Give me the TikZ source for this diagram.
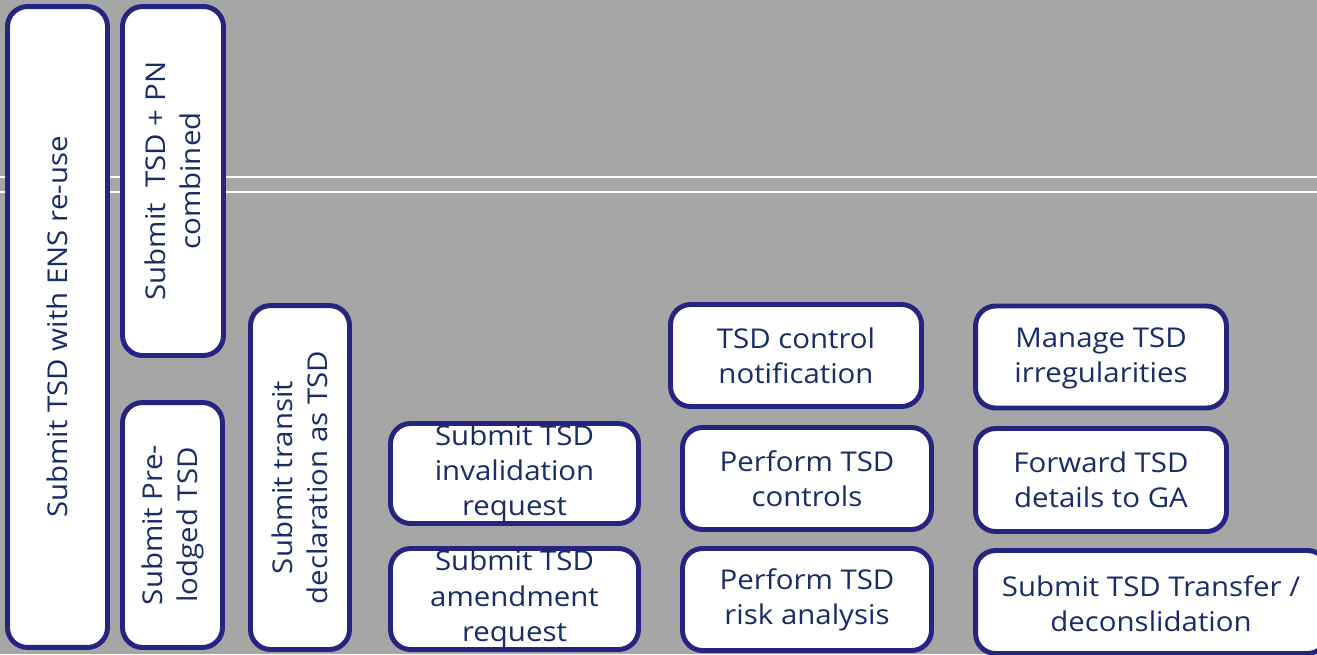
\documentclass[tikz,border=0pt]{standalone}
\usepackage{fontspec}
\setmainfont{Open Sans}[FakeStretch=1.08]
\definecolor{lanegray}{HTML}{A6A6A6}
\definecolor{boxborder}{RGB}{38,36,128}
\definecolor{boxink}{RGB}{24,44,102}

\begin{document}
\begin{tikzpicture}[
        x=0.02cm, y=-0.02cm,
        font=\fontsize{15.5}{20}\selectfont,
        lane/.style={draw=white, line width=1.1pt},
        box/.style={draw=boxborder, fill=white, line width=2.8pt,
            rounded corners=0.4cm, inner sep=0pt, outer sep=0pt},
        txt/.style={text=boxink, align=center, inner sep=0pt},
        vtxt/.style={txt, rotate=90}
    ]
    \useasboundingbox (0,0) rectangle (1317,654);
    \fill[lanegray] (0,0) rectangle (1317,654);
    \clip (0,0) rectangle (1317,654);
    % lane lines
    \draw[lane] (0,177) -- (1317,177);
    \draw[lane] (0,192) -- (1317,192);
    % vertical boxes
    \node[box, minimum width=2.0cm, minimum height=12.82cm] (ensreuse) at (57.5,327) {};
    \node[box, minimum width=2.02cm, minimum height=6.98cm] (pncombined) at (173,181) {};
    \node[box, minimum width=2.0cm, minimum height=4.9cm] (prelodged) at (172.5,525) {};
    \node[box, minimum width=1.98cm, minimum height=6.88cm] (transit) at (300,477.5) {};
    \node[vtxt] at (ensreuse) {Submit TSD with ENS re-use};
    \node[vtxt] at (pncombined) {Submit\ \ TSD + PN\\combined};
    \node[vtxt] at (prelodged) {Submit Pre-\\lodged TSD};
    \node[vtxt] at (transit) {Submit transit\\declaration as TSD};
    % submit column
    \node[box, minimum width=4.96cm, minimum height=2.0cm] (invalidation) at (514.5,473.5) {};
    \node[box, minimum width=4.96cm, minimum height=2.02cm] (amendment) at (514.5,599) {};
    \node[txt] at (invalidation) {Submit TSD\\invalidation\\request};
    \node[txt] at (amendment) {Submit TSD\\amendment\\request};
    % control column
    \node[box, minimum width=5.02cm, minimum height=2.04cm] (ctrlnotif) at (796,355.5) {};
    \node[box, minimum width=4.98cm, minimum height=2.04cm] (controls) at (807,478.5) {};
    \node[box, minimum width=4.98cm, minimum height=2.04cm] (riskanalysis) at (807,599.5) {};
    \node[txt] at (ctrlnotif) {TSD control\\notification};
    \node[txt] at (controls) {Perform TSD\\controls};
    \node[txt] at (riskanalysis) {Perform TSD\\risk analysis};
    % irregularities column
    \node[box, minimum width=5.02cm, minimum height=2.04cm] (irregular) at (1101,357) {};
    \node[box, minimum width=5.02cm, minimum height=2.06cm] (forwardga) at (1101,480) {};
    \node[box, minimum width=7.04cm, minimum height=2.06cm] (transfer) at (1151.5,602) {};
    \node[txt] at (1101,358) {Manage TSD\\irregularities};
    \node[txt] at (forwardga) {Forward TSD\\details to GA};
    \node[txt] at (1151,604) {Submit TSD Transfer /\\deconslidation};
\end{tikzpicture}
\end{document}
